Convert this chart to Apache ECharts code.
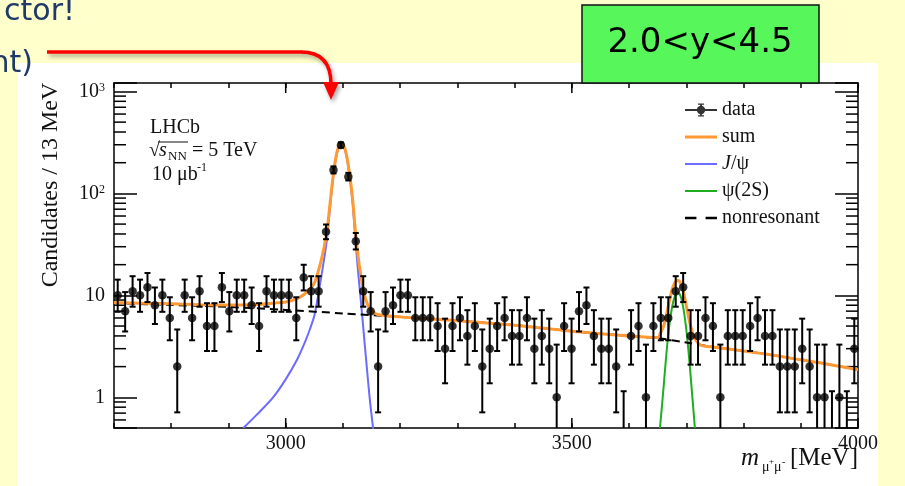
<!DOCTYPE html>
<html>
<head>
<meta charset="utf-8">
<script src="https://cdn.jsdelivr.net/npm/echarts@6/dist/echarts.min.js"></script>
<style>
  html, body { margin: 0; padding: 0; background: #ffffcc; }
  #chart { width: 905px; height: 486px; }
</style>
</head>
<body>
<div id="chart"></div>
<script>
// histogram binning: 13 MeV bins, 2700 - 4000 MeV
const BIN_START = 2700;
const BIN_WIDTH = 13;
const X_MIN = 2700, X_MAX = 4000;
const Y_MIN = 0.5, Y_MAX = 1210;

// candidates per bin
const counts = [
  10, 7, 11, 10, 12, 8, 10, 6, 2, 10,
  6, 11, 5, 5, 12, 7, 10, 10, 8, 5,
  11, 10, 10, 10, 6, 15, 11, 11, 42, 170,
  298, 146, 34, 11, 7, 2, 7, 8, 10, 10,
  6, 6, 6, 5, 3, 5, 6, 4, 5, 2,
  3, 5, 6, 4, 4, 6, 3, 4, 3, 1,
  5, 3, 7, 8, 4, 3, 3, 2, 0, 4,
  5, 1, 5, 6, 6, 11, 12, 4, 4, 6,
  5, 1, 4, 4, 4, 5, 6, 4, 4, 2,
  2, 2, 3, 2, 1, 1, 0, 1, 0, 3
];

// fit curves [mass, candidates]
const sumCurve = [
  [2700, 8.5], [2750, 8.35], [2800, 8.25], [2850, 8.1], [2900, 8.05], [2950, 8.15], [2980, 8.4],
  [3000, 8.6], [3020, 9.3], [3032, 10.2], [3042, 11.5], [3050, 13.2], [3056, 16.5], [3062, 22],
  [3067, 29.5], [3072, 42], [3077, 75], [3082, 135], [3087, 215], [3092, 283], [3097, 312],
  [3102, 292], [3107, 227], [3112, 149], [3117, 87], [3122, 41], [3127, 23], [3132, 14.6],
  [3137, 10.4], [3142, 8.4], [3147, 7.4], [3153, 6.9], [3160, 6.5], [3200, 6.15], [3300, 5.65],
  [3400, 5.1], [3500, 4.45], [3600, 4.0], [3650, 3.85], [3655, 4.3], [3660, 4.95], [3665, 6.3],
  [3670, 8.6], [3675, 11.3], [3680, 13.4], [3685, 14.1], [3690, 13.2], [3695, 10.8], [3700, 7.9],
  [3705, 5.7], [3710, 4.45], [3715, 3.75], [3725, 3.25], [3750, 3.1], [3800, 2.85], [3850, 2.6],
  [3900, 2.33], [3950, 2.1], [4000, 1.86]
];
const jpsiCurve = [
  [2926, 0.5], [2950, 0.68], [2978, 1.0], [3000, 1.5], [3020, 2.35], [3032, 3.3], [3042, 4.6],
  [3050, 6.3], [3056, 9.5], [3062, 15], [3067, 22.5], [3072, 35], [3077, 68], [3082, 128],
  [3087, 208], [3092, 276], [3097, 305], [3102, 285], [3107, 220], [3112, 142], [3117, 80],
  [3122, 34], [3127, 16], [3132, 8], [3137, 3.9], [3142, 1.9], [3147, 0.95], [3153, 0.48]
];
const psi2sCurve = [
  [3654, 0.5], [3660, 1.2], [3665, 2.6], [3670, 4.9], [3675, 7.6], [3680, 9.8], [3685, 10.6],
  [3690, 9.8], [3695, 7.4], [3700, 4.6], [3705, 2.4], [3710, 1.1], [3715, 0.5]
];
const nonresCurve = [
  [2700, 8.4], [2800, 8.05], [2900, 7.7], [3000, 7.2], [3100, 6.65], [3200, 6.15], [3300, 5.65],
  [3400, 5.1], [3500, 4.45], [3600, 4.0], [3650, 3.8], [3700, 3.45], [3750, 3.1], [3800, 2.85],
  [3850, 2.6], [3900, 2.33], [3950, 2.1], [4000, 1.86]
];

// tick marks
const xMajorTicks = [3000, 3500, 4000];
const yMinorTicks = [0.6, 0.7, 0.8, 0.9, 2, 3, 4, 5, 6, 7, 8, 9,
  20, 30, 40, 50, 60, 70, 80, 90, 200, 300, 400, 500, 600, 700, 800, 900];

const SERIF = 'Liberation Serif';
const TXT = '#111';

// poisson interval (zero bins: one sided, as RooFit draws them)
function poissonInterval(n) {
  if (n === 0) return [0, 1.147];
  const lo = n * Math.pow(1 - 1 / (9 * n) - 1 / (3 * Math.sqrt(n)), 3);
  const m = n + 1;
  const hi = m * Math.pow(1 - 1 / (9 * m) + 1 / (3 * Math.sqrt(m)), 3);
  return [lo, hi];
}

const centers = counts.map((n, i) => BIN_START + BIN_WIDTH * (i + 0.5));
const points = [];
const errBars = [];
counts.forEach((n, i) => {
  const iv = poissonInterval(n);
  errBars.push([centers[i], iv[0], iv[1]]);
  if (n > 0) points.push([centers[i], n]);
});

const tickStyle = { stroke: '#000', lineWidth: 1.5 };
const barStyle = { stroke: '#000', lineWidth: 2 };

function renderErrorBar(params, api) {
  const x = api.value(0), lo = api.value(1), hi = api.value(2);
  const cs = params.coordSys;
  const top = api.coord([x, Math.min(hi, Y_MAX)]);
  const hasLow = lo > Y_MIN;
  const yb = hasLow ? api.coord([x, lo])[1] : cs.y + cs.height;
  const kids = [
    { type: 'line', shape: { x1: top[0], y1: top[1], x2: top[0], y2: yb }, style: barStyle },
    { type: 'line', shape: { x1: top[0] - 3, y1: top[1], x2: top[0] + 3, y2: top[1] }, style: barStyle }
  ];
  if (hasLow) {
    kids.push({ type: 'line', shape: { x1: top[0] - 3, y1: yb, x2: top[0] + 3, y2: yb }, style: barStyle });
  }
  return { type: 'group', children: kids };
}

function renderMinorY(params, api) {
  const v = api.value(1);
  const l = api.coord([X_MIN, v]);
  const r = api.coord([X_MAX, v]);
  return { type: 'group', children: [
    { type: 'line', shape: { x1: l[0], y1: l[1], x2: l[0] + 12, y2: l[1] }, style: tickStyle },
    { type: 'line', shape: { x1: r[0] - 12, y1: r[1], x2: r[0], y2: r[1] }, style: tickStyle }
  ] };
}

function renderMajorX(params, api) {
  const m = api.value(0);
  const b = api.coord([m, Y_MIN]);
  const t = api.coord([m, Y_MAX]);
  return { type: 'group', children: [
    { type: 'line', shape: { x1: b[0], y1: b[1], x2: b[0], y2: b[1] - 10 }, style: tickStyle },
    { type: 'line', shape: { x1: t[0], y1: t[1], x2: t[0], y2: t[1] + 10 }, style: tickStyle }
  ] };
}

function yLabel(v) {
  const e = Math.log10(v);
  const r = Math.round(e);
  if (Math.abs(e - r) > 1e-6 || r < 0) return '';
  if (r === 0) return '1';
  if (r === 1) return '10';
  return '10{sup|' + r + '}';
}

// legend icons
const DATA_ICON = 'path://M0,6.1H32V7.9H0Z M15.1,0.5H16.9V13.5H15.1Z M13,0.5H19V1.8H13Z M13,12.2H19V13.5H13Z ' +
  'M20.2,7A4.2,4.2 0 1,1 11.8,7A4.2,4.2 0 1,1 20.2,7Z';
const THICK_LINE = 'path://M0,0H32V3H0Z';
const THIN_LINE = 'path://M0,0H32V2H0Z';
const DASH_LINE = 'path://M0,0H10V2H0Z M18,0H28V2H18Z';

const axisLine = { show: true, onZero: false, lineStyle: { color: '#000', width: 1.5 } };
const arrowShadow = { shadowBlur: 4, shadowOffsetX: 2, shadowOffsetY: 3, shadowColor: 'rgba(0,0,0,0.35)' };

const chart = echarts.init(document.getElementById('chart'), null, { renderer: 'canvas' });
chart.setOption({
  backgroundColor: 'transparent',
  animation: false,
  grid: { left: 114, top: 83, right: 47, bottom: 58, outerBoundsMode: 'none' },
  xAxis: [
    {
      type: 'value', min: X_MIN, max: X_MAX, interval: 100, position: 'bottom',
      axisLine: axisLine,
      axisTick: { show: true, inside: true, length: 5, lineStyle: { color: '#000', width: 1.5 } },
      splitLine: { show: false },
      axisLabel: {
        margin: 6, fontFamily: SERIF, fontSize: 20, color: TXT,
        formatter: v => (xMajorTicks.indexOf(v) >= 0 ? String(v) : '')
      }
    },
    {
      type: 'value', min: X_MIN, max: X_MAX, interval: 100, position: 'top',
      axisLine: axisLine,
      axisTick: { show: true, inside: true, length: 5, lineStyle: { color: '#000', width: 1.5 } },
      splitLine: { show: false },
      axisLabel: { show: false }
    }
  ],
  yAxis: [
    {
      type: 'log', logBase: 10, min: Y_MIN, max: Y_MAX, position: 'left',
      axisLine: axisLine,
      axisTick: { show: true, inside: true, length: 23, lineStyle: { color: '#000', width: 1.5 } },
      splitLine: { show: false },
      axisLabel: {
        margin: 9, fontFamily: SERIF, fontSize: 20, color: TXT,
        formatter: yLabel,
        rich: { sup: { fontFamily: SERIF, fontSize: 12, color: TXT, verticalAlign: 'top' } }
      }
    },
    {
      type: 'log', logBase: 10, min: Y_MIN, max: Y_MAX, position: 'right',
      axisLine: axisLine,
      axisTick: { show: true, inside: true, length: 23, lineStyle: { color: '#000', width: 1.5 } },
      splitLine: { show: false },
      axisLabel: { show: false }
    }
  ],
  legend: {
    orient: 'vertical', left: 680, top: 95,
    itemWidth: 32, itemHeight: 14, itemGap: 7,
    selectedMode: false,
    textStyle: {
      fontFamily: SERIF, fontSize: 20, color: TXT, lineHeight: 20,
      rich: { i: { fontFamily: SERIF, fontSize: 20, fontStyle: 'italic', color: TXT } }
    },
    formatter: name => (name === 'J/ψ' ? '{i|J}/ψ' : name),
    data: [
      { name: 'data', icon: DATA_ICON },
      { name: 'sum', icon: THICK_LINE },
      { name: 'J/ψ', icon: THIN_LINE },
      { name: 'ψ(2S)', icon: THIN_LINE },
      { name: 'nonresonant', icon: DASH_LINE }
    ]
  },
  series: [
    { type: 'custom', name: 'yticks', silent: true, z: 1, renderItem: renderMinorY,
      data: yMinorTicks.map(v => [X_MIN, v]) },
    { type: 'custom', name: 'xticks', silent: true, z: 1, renderItem: renderMajorX,
      data: xMajorTicks.map(m => [m, Y_MAX]) },
    { type: 'line', name: 'J/ψ', data: jpsiCurve, symbol: 'none', smooth: 0.3, z: 2, silent: true,
      lineStyle: { color: '#6b6bff', width: 2 }, itemStyle: { color: '#6b6bff' } },
    { type: 'line', name: 'ψ(2S)', data: psi2sCurve, symbol: 'none', smooth: 0.3, z: 2, silent: true,
      lineStyle: { color: '#1fae1f', width: 2 }, itemStyle: { color: '#1fae1f' } },
    { type: 'line', name: 'nonresonant', data: nonresCurve, symbol: 'none', smooth: 0.3, z: 2, silent: true,
      lineStyle: { color: '#000', width: 2, type: [8, 5] }, itemStyle: { color: '#000' } },
    { type: 'line', name: 'sum', data: sumCurve, symbol: 'none', smooth: 0.3, z: 3, silent: true,
      lineStyle: { color: '#ff9933', width: 3 }, itemStyle: { color: '#ff9933' } },
    { type: 'custom', name: 'errors', silent: true, z: 4, renderItem: renderErrorBar,
      encode: { x: 0, y: 2 }, data: errBars },
    { type: 'scatter', name: 'data', data: points, symbol: 'circle', symbolSize: 8.5, z: 5, silent: true,
      itemStyle: { color: '#000' } }
  ],
  graphic: [
    { type: 'rect', z: -100, silent: true, shape: { x: 17, y: 63, width: 861, height: 423 },
      style: { fill: '#ffffff' } },
    // slide text peeking in at the left
    { type: 'text', z: 50, silent: true, style: { text: 'ctor!', x: 75, y: 12.5, align: 'right',
      verticalAlign: 'middle', fontFamily: 'DejaVu Sans', fontSize: 30, fill: '#1f3a68' } },
    { type: 'text', z: 50, silent: true, style: { text: 'nt)', x: 33, y: 64, align: 'right',
      verticalAlign: 'middle', fontFamily: 'DejaVu Sans', fontSize: 30, fill: '#1f3a68' } },
    // red arrow
    { type: 'polyline', z: 60, silent: true, shape: { points: [[47, 52], [302, 52]] },
      style: Object.assign({ fill: null, stroke: '#ff0000', lineWidth: 3.5 }, arrowShadow) },
    { type: 'bezierCurve', z: 60, silent: true,
      shape: { x1: 301, y1: 52, cpx1: 331, cpy1: 52, x2: 331, y2: 84 },
      style: Object.assign({ fill: null, stroke: '#ff0000', lineWidth: 3.5 }, arrowShadow) },
    { type: 'polygon', z: 60, silent: true, shape: { points: [[323, 82], [339, 82], [331, 100]] },
      style: Object.assign({ fill: '#ff0000' }, arrowShadow) },
    // rapidity box
    { type: 'rect', z: 60, silent: true, shape: { x: 582, y: 5, width: 237, height: 78 },
      style: { fill: '#57f75c', stroke: '#111', lineWidth: 1.5 } },
    { type: 'text', z: 61, silent: true, style: { text: '2.0<y<4.5', x: 700, y: 43, align: 'center',
      verticalAlign: 'middle', fontFamily: 'DejaVu Sans', fontSize: 34, fill: '#000' } },
    // axis titles
    { type: 'text', z: 10, silent: true, x: 51, y: 185, rotation: Math.PI / 2,
      style: { text: 'Candidates / 13 MeV', x: 0, y: 0, align: 'center', verticalAlign: 'middle',
        fontFamily: SERIF, fontSize: 24, fill: TXT } },
    { type: 'text', z: 10, silent: true, style: { text: 'm', x: 741, y: 458, align: 'left',
      verticalAlign: 'middle', fontFamily: SERIF, fontStyle: 'italic', fontSize: 25, fill: TXT } },
    { type: 'text', z: 10, silent: true, style: { text: 'μ', x: 762, y: 467, align: 'left',
      verticalAlign: 'middle', fontFamily: SERIF, fontSize: 14, fill: TXT } },
    { type: 'text', z: 10, silent: true, style: { text: '+', x: 769, y: 462, align: 'left',
      verticalAlign: 'middle', fontFamily: SERIF, fontSize: 9, fill: TXT } },
    { type: 'text', z: 10, silent: true, style: { text: 'μ', x: 774, y: 467, align: 'left',
      verticalAlign: 'middle', fontFamily: SERIF, fontSize: 14, fill: TXT } },
    { type: 'text', z: 10, silent: true, style: { text: '-', x: 782, y: 462, align: 'left',
      verticalAlign: 'middle', fontFamily: SERIF, fontSize: 10, fill: TXT } },
    { type: 'text', z: 10, silent: true, style: { text: '[MeV]', x: 858, y: 458, align: 'right',
      verticalAlign: 'middle', fontFamily: SERIF, fontSize: 25, fill: TXT } },
    // experiment label
    { type: 'text', z: 10, silent: true, style: { text: 'LHCb', x: 150, y: 128, align: 'left',
      verticalAlign: 'middle', fontFamily: SERIF, fontSize: 20, fill: TXT } },
    { type: 'text', z: 10, silent: true, style: { text: '√', x: 149, y: 151, align: 'left',
      verticalAlign: 'middle', fontFamily: SERIF, fontSize: 20, fill: TXT } },
    { type: 'line', z: 10, silent: true, shape: { x1: 158, y1: 142, x2: 188, y2: 142 },
      style: { stroke: TXT, lineWidth: 1 } },
    { type: 'text', z: 10, silent: true, style: { text: 's', x: 159, y: 151, align: 'left',
      verticalAlign: 'middle', fontFamily: SERIF, fontStyle: 'italic', fontSize: 20, fill: TXT } },
    { type: 'text', z: 10, silent: true, style: { text: 'NN', x: 168, y: 157, align: 'left',
      verticalAlign: 'middle', fontFamily: SERIF, fontSize: 13, fill: TXT } },
    { type: 'text', z: 10, silent: true, style: { text: '= 5 TeV', x: 192, y: 151, align: 'left',
      verticalAlign: 'middle', fontFamily: SERIF, fontSize: 20, fill: TXT } },
    { type: 'text', z: 10, silent: true, style: { text: '10 μb', x: 152, y: 175, align: 'left',
      verticalAlign: 'middle', fontFamily: SERIF, fontSize: 20, fill: TXT } },
    { type: 'text', z: 10, silent: true, style: { text: '-1', x: 197, y: 168, align: 'left',
      verticalAlign: 'middle', fontFamily: SERIF, fontSize: 12, fill: TXT } }
  ]
});
</script>
</body>
</html>
